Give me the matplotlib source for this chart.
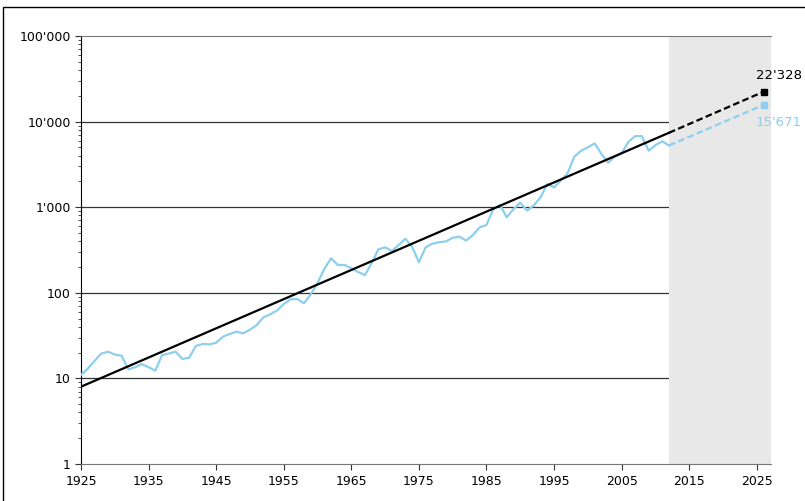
import matplotlib.pyplot as plt
from matplotlib.ticker import FixedLocator, LogLocator, NullFormatter
from matplotlib.patches import Rectangle

# Annual index values, 1925-2012
years = list(range(1925, 2013))
index_values = [
    11, 13, 16, 19.5, 20.5, 19, 18.4, 12.8, 13.5, 14.7,   # 1925-1934
    13.5, 12.3, 18.8, 19.5, 20.5, 16.9, 17.4, 24, 25.2, 25,   # 1935-1944
    26.1, 30.7, 33, 35.1, 33.6, 37, 42, 51.7, 56, 62,   # 1945-1954
    74, 84, 84.7, 75.4, 96, 130, 190, 253, 211, 211,   # 1955-1964
    193, 175, 161, 221, 322, 340, 308, 361, 428, 345,   # 1965-1974
    227, 340, 375, 390, 398, 440, 453, 407, 473, 582,   # 1975-1984
    620, 944, 1061, 762, 950, 1130, 912, 1050, 1300, 1866,   # 1985-1994
    1706, 2050, 2488, 3890, 4570, 5000, 5560, 4200, 3310, 3890,   # 1995-2004
    4270, 5800, 6760, 6760, 4570, 5300, 5880, 5260,   # 2005-2012
]

# Exponential trend (fitted) and projection to 2026
trend_years = [1925, 2012]
trend_values = [8.0, 7400]
proj_year = 2026
trend_proj = 22328
index_proj = 15671

forecast_start, forecast_end = 2012, 2027.1

blue = '#8ccfef'

fig = plt.figure(figsize=(8.05, 5.01), dpi=100)
ax = fig.add_axes([81 / 805, 37 / 501, 690 / 805, 428 / 501])

ax.set_yscale('log')
ax.set_ylim(1, 100000)
ax.set_xlim(1925, forecast_end)

# forecast area sits above the gridlines but under the data
ax.axvspan(forecast_start, forecast_end, color='#e8e8e8', lw=0, zorder=2)
for v in [10, 100, 1000, 10000]:
    ax.axhline(v, color='#333333', lw=0.9, zorder=1)

ax.plot(years, index_values, color=blue, lw=1.6, zorder=3)
ax.plot(trend_years, trend_values, color='black', lw=1.6, zorder=4)

ax.plot([trend_years[-1], proj_year], [trend_values[-1], trend_proj],
        color='black', lw=1.6, ls=(0, (3, 1.5)), zorder=4)
ax.plot([years[-1], proj_year], [index_values[-1], index_proj],
        color=blue, lw=1.6, ls=(0, (3, 1.5)), zorder=3)
ax.plot([proj_year], [trend_proj], marker='s', ms=5, color='black', zorder=5)
ax.plot([proj_year], [index_proj], marker='s', ms=5, color=blue, zorder=5)

ax.annotate("22'328", (proj_year, trend_proj), xytext=(11, 12),
            textcoords='offset points', ha='center', va='center',
            fontsize=9.5, color='black', annotation_clip=False)
ax.annotate("15'671", (proj_year, index_proj), xytext=(11, -13),
            textcoords='offset points', ha='center', va='center',
            fontsize=9.5, color=blue, annotation_clip=False)

# axes styling
ax.spines['right'].set_visible(False)
ax.spines['top'].set_color('#777777')
ax.spines['bottom'].set_color('#777777')
ax.spines['left'].set_color('black')
ax.spines['top'].set_zorder(6)

ax.xaxis.set_major_locator(FixedLocator(list(range(1925, 2026, 10))))
ax.yaxis.set_major_locator(FixedLocator([1, 10, 100, 1000, 10000, 100000]))
ax.yaxis.set_minor_locator(LogLocator(base=10, subs=range(2, 10), numticks=20))
ax.yaxis.set_minor_formatter(NullFormatter())
ax.set_yticklabels(["1", "10", "100", "1'000", "10'000", "100'000"])

ax.tick_params(axis='both', which='major', labelsize=9, length=4, width=0.8,
               direction='out', color='#333333')
ax.tick_params(axis='y', which='minor', length=2.5, width=0.6, color='#333333')
ax.tick_params(axis='x', pad=4)

# outer frame around the chart
fig.patches.append(Rectangle((3 / 805, -0.1), 1.2, (501 - 7) / 501 + 0.1,
                             transform=fig.transFigure, fill=False,
                             edgecolor='black', lw=1.0))

plt.savefig('out.png', dpi=100)
